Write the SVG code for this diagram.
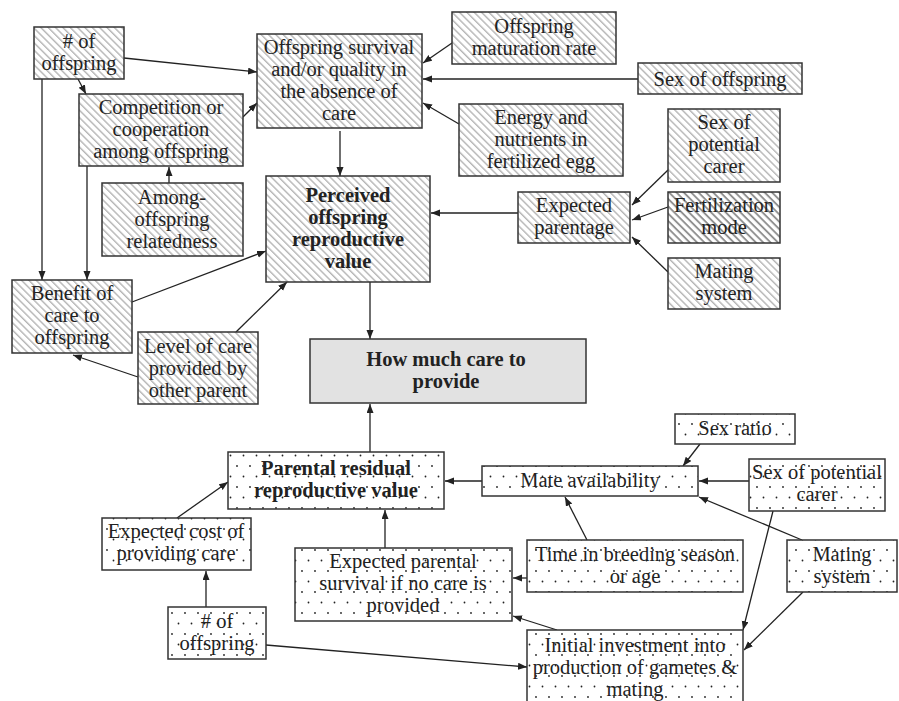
<svg xmlns="http://www.w3.org/2000/svg" width="899" height="701" viewBox="0 0 899 701">
<style>
.box{stroke:#333;stroke-width:1.5}
.h{fill:url(#hatch)}
.hd{fill:url(#hatchDark)}
.d{fill:url(#dots)}
.g{fill:#e2e2e2}
text{font-family:"Liberation Serif","Times New Roman",serif;font-size:20.5px;fill:#222;text-anchor:middle}
.b{font-weight:bold}
#connectors line{stroke:#222;stroke-width:1.3;marker-end:url(#arr)}
</style>
<defs>
<pattern id="hatch" patternUnits="userSpaceOnUse" width="5.2" height="5.2" patternTransform="rotate(45)">
<rect width="5.2" height="5.2" fill="#fff"/>
<line x1="0" y1="1" x2="5.2" y2="1" stroke="#a8a8a8" stroke-width="1.2"/>
</pattern>
<pattern id="hatchDark" patternUnits="userSpaceOnUse" width="5.2" height="5.2" patternTransform="rotate(45)">
<rect width="5.2" height="5.2" fill="#fff"/>
<line x1="0" y1="1" x2="5.2" y2="1" stroke="#8a8a8a" stroke-width="1.8"/>
</pattern>
<pattern id="dots" patternUnits="userSpaceOnUse" width="13" height="21">
<rect width="13" height="21" fill="#fff"/>
<circle cx="3" cy="4" r="0.9" fill="#222"/>
<circle cx="9.5" cy="14.5" r="0.9" fill="#222"/>
</pattern>
<marker id="arr" markerUnits="userSpaceOnUse" markerWidth="10" markerHeight="8" refX="9" refY="3.5" orient="auto">
<path d="M0,0 L9,3.5 L0,7 z" fill="#222"/>
</marker>
</defs>
<rect width="899" height="701" fill="#fff"/>

<g id="connectors">
<line x1="124" y1="58" x2="257" y2="72"/>
<line x1="78" y1="79" x2="86" y2="94"/>
<line x1="243" y1="117" x2="257" y2="103"/>
<line x1="42" y1="79" x2="42" y2="280"/>
<line x1="87" y1="166" x2="87" y2="280"/>
<line x1="169" y1="183" x2="169" y2="167"/>
<line x1="452" y1="43" x2="423" y2="63"/>
<line x1="638" y1="79" x2="423" y2="79"/>
<line x1="459" y1="124" x2="423" y2="103"/>
<line x1="340" y1="131" x2="340" y2="176"/>
<line x1="518" y1="213" x2="431" y2="213"/>
<line x1="668" y1="170" x2="632" y2="205"/>
<line x1="668" y1="207" x2="632" y2="220"/>
<line x1="668" y1="272" x2="632" y2="237"/>
<line x1="132" y1="302" x2="266" y2="251"/>
<line x1="236" y1="332" x2="287" y2="282"/>
<line x1="138" y1="377" x2="73" y2="355"/>
<line x1="370" y1="282" x2="370" y2="339"/>
<line x1="370" y1="452" x2="370" y2="404"/>
<line x1="482" y1="481" x2="445" y2="481"/>
<line x1="177" y1="518" x2="228" y2="482"/>
<line x1="206" y1="607" x2="206" y2="571"/>
<line x1="385" y1="548" x2="385" y2="510"/>
<line x1="266" y1="645" x2="527" y2="667"/>
<line x1="700" y1="444" x2="683" y2="466"/>
<line x1="749" y1="481" x2="699" y2="481"/>
<line x1="587" y1="540" x2="565" y2="497"/>
<line x1="527" y1="578" x2="513" y2="578"/>
<line x1="802" y1="540" x2="699" y2="497"/>
<line x1="773" y1="511" x2="743" y2="630"/>
<line x1="803" y1="592" x2="744" y2="650"/>
<line x1="557" y1="630" x2="513" y2="616"/>
</g>

<g id="n-num-offspring-top"><rect class="box h" x="34" y="27" width="90" height="52"/>
<text x="79" y="48">
<tspan x="79">#&#160;of</tspan><tspan x="79" dy="22">offspring</tspan></text></g>

<g id="n-competition"><rect class="box h" x="79" y="94" width="164" height="72"/>
<text x="161" y="114"><tspan x="161">Competition or</tspan><tspan x="161" dy="22">cooperation</tspan><tspan x="161" dy="22">among offspring</tspan></text></g>

<g id="n-relatedness"><rect class="box h" x="102" y="183" width="141" height="73"/>
<text x="172" y="204"><tspan x="172">Among-</tspan><tspan x="172" dy="22">offspring</tspan><tspan x="172" dy="22">relatedness</tspan></text></g>

<g id="n-survival"><rect class="box h" x="257" y="34" width="165" height="94"/>
<text x="339" y="54"><tspan x="339">Offspring survival</tspan><tspan x="339" dy="22">and/or quality in</tspan><tspan x="339" dy="22">the absence of</tspan><tspan x="339" dy="22">care</tspan></text></g>

<g id="n-maturation"><rect class="box h" x="452" y="12" width="164" height="52"/>
<text x="534" y="33"><tspan x="534">Offspring</tspan><tspan x="534" dy="22">maturation rate</tspan></text></g>

<g id="n-sex-offspring"><rect class="box h" x="638" y="63" width="164" height="31"/>
<text x="720" y="86">Sex of offspring</text></g>

<g id="n-energy"><rect class="box h" x="459" y="104" width="164" height="72"/>
<text x="541" y="124"><tspan x="541">Energy and</tspan><tspan x="541" dy="22">nutrients in</tspan><tspan x="541" dy="22">fertilized egg</tspan></text></g>

<g id="n-perceived"><rect class="box h" x="266" y="176" width="164" height="106"/>
<text class="b" x="348" y="202"><tspan x="348">Perceived</tspan><tspan x="348" dy="22">offspring</tspan><tspan x="348" dy="22">reproductive</tspan><tspan x="348" dy="22">value</tspan></text></g>

<g id="n-parentage"><rect class="box h" x="518" y="192" width="112" height="51"/>
<text x="574" y="212"><tspan x="574">Expected</tspan><tspan x="574" dy="22">parentage</tspan></text></g>

<g id="n-sex-carer-top"><rect class="box h" x="668" y="109" width="112" height="73"/>
<text x="724" y="129"><tspan x="724">Sex of</tspan><tspan x="724" dy="22">potential</tspan><tspan x="724" dy="22">carer</tspan></text></g>

<g id="n-fertilization"><rect class="box hd" x="668" y="192" width="112" height="51"/>
<text x="724" y="212"><tspan x="724">Fertilization</tspan><tspan x="724" dy="22">mode</tspan></text></g>

<g id="n-mating-top"><rect class="box h" x="668" y="258" width="112" height="51"/>
<text x="724" y="278"><tspan x="724">Mating</tspan><tspan x="724" dy="22">system</tspan></text></g>

<g id="n-benefit"><rect class="box h" x="12" y="280" width="120" height="73"/>
<text x="72" y="300"><tspan x="72">Benefit of</tspan><tspan x="72" dy="22">care to</tspan><tspan x="72" dy="22">offspring</tspan></text></g>

<g id="n-other-parent"><rect class="box h" x="138" y="332" width="120" height="72"/>
<text x="198" y="353"><tspan x="198">Level of care</tspan><tspan x="198" dy="22">provided by</tspan><tspan x="198" dy="22">other parent</tspan></text></g>

<g id="n-how-much"><rect class="box g" x="310" y="339" width="276" height="64"/>
<text class="b" x="446" y="366"><tspan x="446">How much care to</tspan><tspan x="446" dy="22">provide</tspan></text></g>

<g id="n-residual"><rect class="box d" x="228" y="452" width="216" height="57"/>
<text class="b" x="336" y="475"><tspan x="336">Parental residual</tspan><tspan x="336" dy="22">reproductive value</tspan></text></g>

<g id="n-cost"><rect class="box d" x="102" y="518" width="149" height="52"/>
<text x="176" y="538"><tspan x="176">Expected cost of</tspan><tspan x="176" dy="22">providing care</tspan></text></g>

<g id="n-num-offspring-bottom"><rect class="box d" x="168" y="607" width="98" height="52"/>
<text x="217" y="628"><tspan x="217">#&#160;of</tspan><tspan x="217" dy="22">offspring</tspan></text></g>

<g id="n-parental-survival"><rect class="box d" x="295" y="548" width="217" height="73"/>
<text x="403" y="568"><tspan x="403">Expected parental</tspan><tspan x="403" dy="22">survival if no care is</tspan><tspan x="403" dy="22">provided</tspan></text></g>

<g id="n-mate-availability"><rect class="box d" x="482" y="466" width="216" height="30"/>
<text x="590" y="487">Mate availability</text></g>

<g id="n-sex-ratio"><rect class="box d" x="675" y="414" width="120" height="30"/>
<text x="735" y="435">Sex ratio</text></g>

<g id="n-sex-carer-bottom"><rect class="box d" x="749" y="459" width="136" height="52"/>
<text x="817" y="479"><tspan x="817">Sex of potential</tspan><tspan x="817" dy="22">carer</tspan></text></g>

<g id="n-time"><rect class="box d" x="527" y="540" width="216" height="52"/>
<text x="635" y="561"><tspan x="635">Time in breeding season</tspan><tspan x="635" dy="22">or age</tspan></text></g>

<g id="n-mating-bottom"><rect class="box d" x="787" y="540" width="110" height="52"/>
<text x="842" y="561"><tspan x="842">Mating</tspan><tspan x="842" dy="22">system</tspan></text></g>

<g id="n-initial"><rect class="box d" x="527" y="630" width="216" height="80"/>
<text x="635" y="652"><tspan x="635">Initial investment into</tspan><tspan x="635" dy="22">production of gametes &amp;</tspan><tspan x="635" dy="22">mating</tspan></text></g>
</svg>
